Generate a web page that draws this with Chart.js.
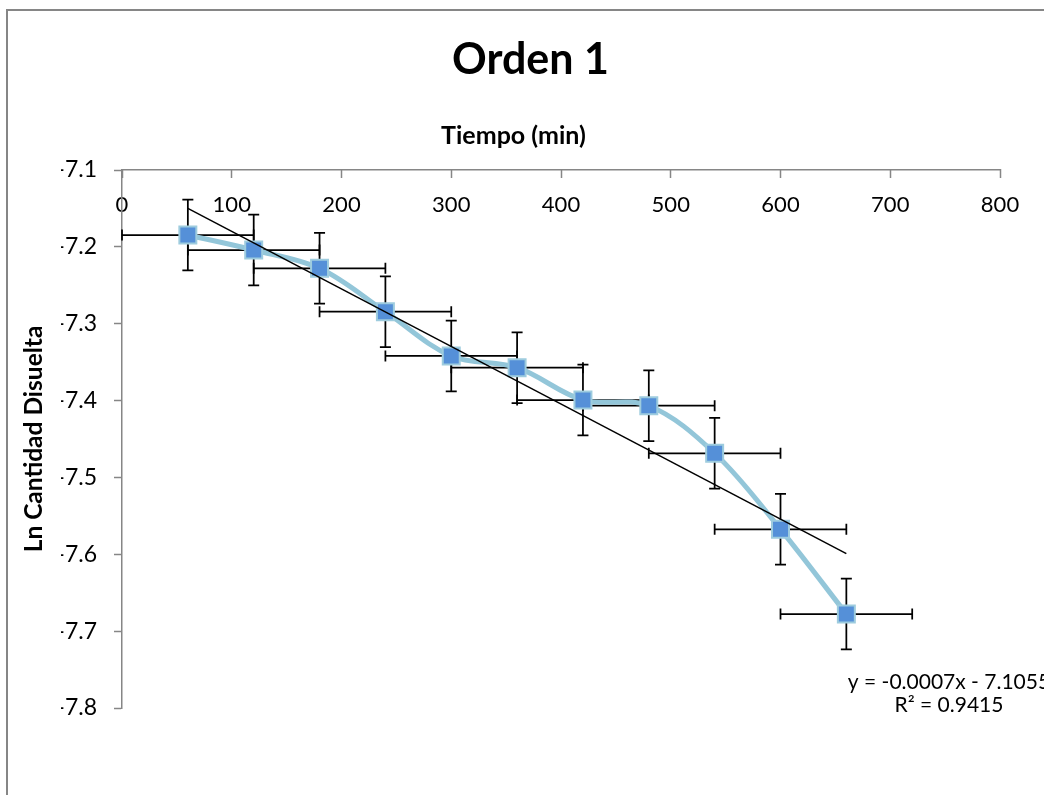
<!DOCTYPE html>
<html>
<head>
<meta charset="utf-8">
<script src="https://cdn.jsdelivr.net/npm/chart.js@4.4.0/dist/chart.umd.min.js"></script>
<style>
html,body{margin:0;padding:0;background:#ffffff;}
canvas{display:block;}
</style>
</head>
<body>
<canvas id="c" width="1044" height="795"></canvas>
<script>
// ---- Data ----
const tiempo = [60, 120, 180, 240, 300, 360, 420, 480, 540, 600, 660];
const lnCantidad = [-7.1846, -7.2041, -7.2279, -7.2844, -7.3420, -7.3572, -7.3993, -7.4067, -7.4686, -7.5675, -7.6777];
const errTiempo = [60, 60, 60, 60, 60, 60, 60, 60, 60, 60, 60];
const errLn = [0.046, 0.046, 0.046, 0.046, 0.046, 0.046, 0.046, 0.046, 0.046, 0.046, 0.046];
const xTicks = [0, 100, 200, 300, 400, 500, 600, 700, 800];
const yTicks = [-7.1, -7.2, -7.3, -7.4, -7.5, -7.6, -7.7, -7.8];
const chartTitle = 'Orden 1';
const xTitle = 'Tiempo (min)';
const yTitle = 'Ln Cantidad Disuelta';
const trendLabel = ['y = -0.0007x - 7.1055', 'R\u00B2 = 0.9415'];

// least-squares trendline from the series
function linReg(xs, ys) {
  const n = xs.length;
  const mx = xs.reduce((a, b) => a + b, 0) / n;
  const my = ys.reduce((a, b) => a + b, 0) / n;
  let sxy = 0, sxx = 0;
  for (let i = 0; i < n; i++) { sxy += (xs[i] - mx) * (ys[i] - my); sxx += (xs[i] - mx) * (xs[i] - mx); }
  const b = sxy / sxx;
  return { b, a: my - b * mx };
}
const reg = linReg(tiempo, lnCantidad);
const xFirst = tiempo[0], xLast = tiempo[tiempo.length - 1];
const trendData = [{x: xFirst, y: reg.a + reg.b * xFirst}, {x: xLast, y: reg.a + reg.b * xLast}];
const seriesData = tiempo.map((x, i) => ({x: x, y: lnCantidad[i]}));

const FONT = 'Lato, "Open Sans", sans-serif';
const AXIS_GRAY = '#868686';

const decorPlugin = {
  id: 'decor',
  beforeDraw(chart) {
    const ctx = chart.ctx;
    ctx.save();
    ctx.fillStyle = '#ffffff';
    ctx.fillRect(0, 0, chart.width, chart.height);
    ctx.strokeStyle = AXIS_GRAY;
    ctx.lineWidth = 2;
    ctx.strokeRect(7, 10, chart.width + 50, chart.height + 50);
    ctx.restore();
  },
  beforeDatasetsDraw(chart) {
    const ctx = chart.ctx;
    const xs = chart.scales.x, ys = chart.scales.y;
    const cap = 5.5;
    ctx.save();
    ctx.strokeStyle = '#000000';
    ctx.lineWidth = 1.75;
    for (let i = 0; i < tiempo.length; i++) {
      const px = xs.getPixelForValue(tiempo[i]);
      const py = ys.getPixelForValue(lnCantidad[i]);
      const x1 = xs.getPixelForValue(tiempo[i] - errTiempo[i]);
      const x2 = xs.getPixelForValue(tiempo[i] + errTiempo[i]);
      const y1 = ys.getPixelForValue(lnCantidad[i] + errLn[i]);
      const y2 = ys.getPixelForValue(lnCantidad[i] - errLn[i]);
      ctx.beginPath();
      ctx.moveTo(x1, py); ctx.lineTo(x2, py);
      ctx.moveTo(x1, py - cap); ctx.lineTo(x1, py + cap);
      ctx.moveTo(x2, py - cap); ctx.lineTo(x2, py + cap);
      ctx.moveTo(px, y1); ctx.lineTo(px, y2);
      ctx.moveTo(px - cap, y1); ctx.lineTo(px + cap, y1);
      ctx.moveTo(px - cap, y2); ctx.lineTo(px + cap, y2);
      ctx.stroke();
    }
    ctx.restore();
  },
  afterDraw(chart) {
    const ctx = chart.ctx;
    ctx.save();
    ctx.fillStyle = '#000000';
    ctx.textAlign = 'center';
    ctx.textBaseline = 'middle';
    ctx.font = 'bold 25px ' + FONT;
    ctx.fillText(xTitle, 513.5, 135.5);
    ctx.font = '21px ' + FONT;
    ctx.fillText(trendLabel[0], 949, 682);
    ctx.fillText(trendLabel[1], 949, 705);
    ctx.restore();
  }
};

new Chart(document.getElementById('c'), {
  type: 'scatter',
  data: {
    datasets: [
      {
        label: 'Lineal',
        data: trendData,
        showLine: true,
        borderColor: '#000000',
        borderWidth: 1.5,
        pointRadius: 0,
        tension: 0,
        order: 0
      },
      {
        label: 'Ln Cantidad Disuelta',
        data: seriesData,
        showLine: true,
        borderColor: '#93C6D9',
        borderWidth: 5,
        tension: 0.35,
        pointStyle: 'rect',
        pointRadius: 12,
        pointHoverRadius: 12,
        pointBackgroundColor: '#5590D8',
        pointBorderColor: '#9ECCDE',
        pointBorderWidth: 2,
        order: 1
      }
    ]
  },
  options: {
    responsive: false,
    animation: false,
    devicePixelRatio: 1,
    layout: { padding: { left: 61, top: 0, right: 44, bottom: 87 } },
    plugins: {
      legend: { display: false },
      tooltip: { enabled: false },
      title: {
        display: true,
        text: chartTitle,
        color: '#000000',
        font: { family: FONT, size: 43, weight: 'bold' },
        padding: { top: 34.2, bottom: 0 }
      }
    },
    scales: {
      x: {
        type: 'linear',
        position: 'top',
        min: 0,
        max: 800,
        afterBuildTicks: s => { s.ticks = xTicks.map(v => ({value: v})); },
        afterFit: s => { s.height = 84.2; },
        ticks: {
          mirror: true,
          padding: 21.8,
          color: '#000000',
          font: { family: FONT, size: 22 },
          maxRotation: 0,
          autoSkip: false
        },
        grid: {
          drawOnChartArea: false,
          drawTicks: true,
          tickLength: -8,
          tickColor: AXIS_GRAY,
          tickWidth: 1.5
        },
        border: { color: AXIS_GRAY, width: 1.5 }
      },
      y: {
        type: 'linear',
        position: 'left',
        min: -7.8,
        max: -7.1,
        afterBuildTicks: s => { s.ticks = yTicks.map(v => ({value: v})); },
        afterFit: s => { s.width = 61; },
        ticks: {
          padding: 17,
          color: '#000000',
          font: { family: FONT, size: 23 },
          callback: v => Number(v).toFixed(1),
          autoSkip: false
        },
        grid: {
          drawOnChartArea: false,
          drawTicks: true,
          tickLength: 8,
          tickColor: AXIS_GRAY,
          tickWidth: 1.5
        },
        border: { color: AXIS_GRAY, width: 1.5 },
        title: {
          display: true,
          text: yTitle,
          color: '#000000',
          font: { family: FONT, size: 24.5, weight: 'bold' },
          padding: { top: -41.7, bottom: 0 }
        }
      }
    }
  },
  plugins: [decorPlugin]
});
</script>
</body>
</html>
